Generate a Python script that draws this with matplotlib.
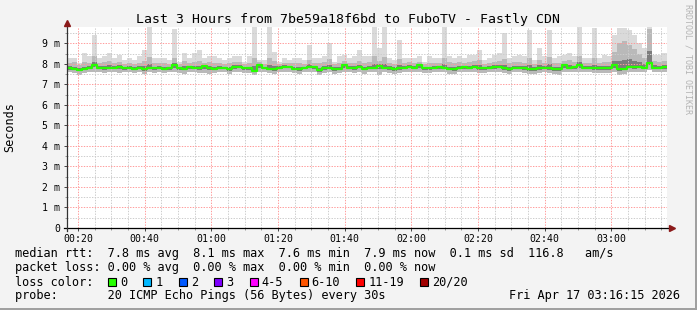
import numpy as np
import matplotlib.pyplot as plt
from matplotlib.patches import Rectangle

# ---------------- DATA ----------------
# one sample every 90 s, first sample at 00:16:40 (minutes after midnight)
START_MIN = 16 + 40 / 60
STEP_MIN = 1.5

# median rtt in ms
median_ms = [
    7.79, 7.76, 7.72, 7.74, 7.82, 7.93, 7.82, 7.80, 7.82, 7.80, 7.83, 7.78, 7.79, 7.76, 7.80,
    7.74, 7.82, 7.78, 7.80, 7.77, 7.79, 7.92, 7.80, 7.76, 7.85, 7.80, 7.78, 7.88, 7.79, 7.77,
    7.82, 7.80, 7.74, 7.85, 7.87, 7.79, 7.78, 7.66, 7.92, 7.80, 7.77, 7.74, 7.82, 7.87, 7.86,
    7.76, 7.74, 7.80, 7.86, 7.84, 7.68, 7.78, 7.80, 7.75, 7.76, 7.92, 7.80, 7.79, 7.87, 7.76,
    7.82, 7.80, 7.88, 7.82, 7.80, 7.74, 7.79, 7.80, 7.87, 7.82, 7.92, 7.79, 7.78, 7.80, 7.83,
    7.82, 7.76, 7.75, 7.81, 7.83, 7.80, 7.87, 7.80, 7.79, 7.82, 7.83, 7.86, 7.80, 7.74, 7.82,
    7.82, 7.79, 7.74, 7.74, 7.78, 7.80, 7.79, 7.74, 7.73, 7.92, 7.82, 7.83, 7.92, 7.82, 7.82,
    7.80, 7.79, 7.78, 7.79, 7.92, 7.74, 7.76, 7.87, 7.86, 7.87, 7.82, 8.06, 7.82, 7.82, 7.84,
]

# slowest ping of each sample (top of the light smoke)
smoke_max = [
    8.28, 8.28, 8.03, 8.52, 8.36, 9.41, 8.28, 8.36, 8.52, 8.28, 8.44, 8.19, 8.28, 8.19, 8.36,
    8.68, 9.80, 8.28, 8.28, 8.28, 8.19, 9.70, 8.11, 8.52, 8.28, 8.52, 8.68, 8.28, 8.36, 8.36,
    8.28, 8.19, 8.28, 8.36, 8.40, 8.11, 8.36, 9.80, 8.19, 8.19, 9.80, 8.60, 8.11, 8.28, 8.19,
    8.28, 8.28, 8.19, 8.93, 8.28, 8.28, 8.36, 9.00, 8.11, 8.36, 8.44, 8.28, 8.36, 8.68, 8.36,
    8.36, 9.80, 8.76, 9.80, 8.28, 8.19, 9.17, 8.28, 8.28, 8.28, 8.36, 8.11, 8.36, 8.28, 8.28,
    9.80, 8.36, 8.28, 8.36, 8.28, 8.44, 8.44, 8.68, 8.19, 8.28, 8.44, 8.52, 9.49, 8.28, 8.36,
    8.44, 8.36, 9.66, 8.19, 8.76, 8.36, 9.66, 8.28, 8.36, 8.44, 8.52, 8.36, 9.80, 8.28, 8.28,
    9.74, 8.28, 8.44, 8.36, 9.41, 9.74, 9.74, 9.66, 9.41, 9.00, 8.76, 9.80, 8.44, 8.44, 8.52,
]

# upper edge of the dense smoke
smoke_hi = [
    8.05, 8.08, 7.95, 8.10, 8.05, 8.40, 8.05, 8.08, 8.12, 8.02, 8.10, 8.00, 8.05, 8.00, 8.05,
    8.15, 8.35, 8.02, 8.05, 8.05, 8.00, 8.30, 7.98, 8.12, 8.05, 8.10, 8.15, 8.05, 8.08, 8.05,
    8.05, 8.00, 8.05, 8.10, 8.10, 8.00, 8.05, 8.30, 8.10, 8.00, 8.30, 8.15, 7.98, 8.05, 8.02,
    8.05, 8.02, 8.00, 8.20, 8.05, 8.02, 8.08, 8.25, 8.00, 8.05, 8.15, 8.05, 8.05, 8.15, 8.05,
    8.08, 8.40, 8.15, 8.35, 8.05, 8.00, 8.25, 8.05, 8.08, 8.05, 8.10, 8.00, 8.05, 8.02, 8.05,
    8.30, 8.08, 8.05, 8.08, 8.05, 8.10, 8.12, 8.20, 8.00, 8.05, 8.10, 8.15, 8.25, 8.05, 8.08,
    8.10, 8.05, 8.30, 8.00, 8.20, 8.05, 8.35, 8.05, 8.05, 8.15, 8.20, 8.08, 8.40, 8.05, 8.05,
    8.30, 8.05, 8.10, 8.08, 8.60, 9.00, 9.10, 8.90, 8.70, 8.50, 8.30, 9.70, 8.15, 8.10, 8.15,
]

# fastest ping of each sample (bottom of the smoke)
smoke_lo = [
    7.58, 7.55, 7.48, 7.55, 7.60, 7.62, 7.58, 7.55, 7.60, 7.58, 7.55, 7.58, 7.60, 7.55, 7.58,
    7.50, 7.60, 7.55, 7.58, 7.56, 7.58, 7.62, 7.55, 7.52, 7.60, 7.58, 7.56, 7.55, 7.50, 7.55,
    7.60, 7.58, 7.52, 7.60, 7.62, 7.56, 7.55, 7.45, 7.60, 7.58, 7.55, 7.52, 7.58, 7.62, 7.60,
    7.55, 7.50, 7.58, 7.60, 7.58, 7.46, 7.55, 7.58, 7.52, 7.55, 7.60, 7.58, 7.55, 7.62, 7.52,
    7.58, 7.60, 7.48, 7.58, 7.56, 7.50, 7.55, 7.58, 7.60, 7.58, 7.62, 7.55, 7.55, 7.58, 7.60,
    7.58, 7.52, 7.50, 7.58, 7.60, 7.58, 7.60, 7.56, 7.55, 7.58, 7.60, 7.60, 7.55, 7.50, 7.58,
    7.58, 7.55, 7.50, 7.52, 7.55, 7.58, 7.55, 7.50, 7.46, 7.60, 7.58, 7.60, 7.62, 7.58, 7.58,
    7.55, 7.55, 7.55, 7.55, 7.60, 7.48, 7.52, 7.60, 7.58, 7.60, 7.58, 7.70, 7.58, 7.58, 7.60,
]

x_ticks = [20, 40, 60, 80, 100, 120, 140, 160, 180]
x_labels = ["00:20", "00:40", "01:00", "01:20", "01:40", "02:00", "02:20", "02:40", "03:00"]
y_ticks = [0, 1, 2, 3, 4, 5, 6, 7, 8, 9]
y_labels = ["0", "1 m", "2 m", "3 m", "4 m", "5 m", "6 m", "7 m", "8 m", "9 m"]

loss_labels = ["0", "1", "2", "3", "4-5", "6-10", "11-19", "20/20"]
loss_colors = ["#26ff00", "#00b8ff", "#0059ff", "#7e00ff", "#ff00ff", "#ff5500", "#ff0000", "#a10000"]

rtt_avg, rtt_max, rtt_min, rtt_now, rtt_sd, rtt_ams = "7.8", "8.1", "7.6", "7.9", "0.1", "116.8"
loss_avg, loss_max, loss_min, loss_now = "0.00", "0.00", "0.00", "0.00"

TITLE = "Last 3 Hours from 7be59a18f6bd to FuboTV - Fastly CDN"
PROBE = "20 ICMP Echo Pings (56 Bytes) every 30s"
STAMP = "Fri Apr 17 03:16:15 2026"

# ---------------- SETTINGS ----------------
W, H = 697, 310
BG = "#f3f3f3"
MONO = "DejaVu Sans Mono"
ARROW = "#8b1a1a"
# ------------------------------------------

plt.rcParams["font.family"] = MONO

fig = plt.figure(figsize=(W / 100, H / 100), dpi=100, facecolor=BG)
ax = fig.add_axes([67 / W, 82 / H, 600 / W, 201 / H])
ax.set_facecolor("white")

# step edges: one extra edge after the last sample
edges = START_MIN + STEP_MIN * np.arange(len(median_ms) + 1)


def ext(v):
    v = np.asarray(v, dtype=float)
    return np.append(v, v[-1])


med = ext(median_ms)
mx = ext(smoke_max)
hi = ext(smoke_hi)
lo = ext(smoke_lo)

# smoke layers, lightest first
ax.fill_between(edges, lo, mx, step="post", color="#dadada", lw=0, zorder=1)
ax.fill_between(edges, lo, hi, step="post", color="#b9b9b9", lw=0, zorder=1)
ax.fill_between(edges, (2 * med + lo) / 3, (2 * med + hi) / 3, step="post", color="#7c7c7c", lw=0, zorder=1)

# median line (0 loss -> green)
ax.step(edges, med, where="post", color=loss_colors[0], lw=1.6, zorder=3)

ax.set_xlim(START_MIN, START_MIN + 180)
ax.set_ylim(0, 9.795)

ax.set_xticks(x_ticks)
ax.set_xticklabels(x_labels)
ax.set_xticks(np.arange(20, 196, 5), minor=True)
ax.set_yticks(y_ticks)
ax.set_yticklabels(y_labels)
ax.set_yticks(np.arange(0.5, 9.8, 1.0), minor=True)

# grid on top of the smoke, like rrdtool
ax.grid(which="major", color="#ff9a9a", lw=0.7, linestyle=(0, (1.4, 1.4)))
ax.grid(which="minor", color="#cccccc", lw=0.7, linestyle=(0, (1.4, 1.4)))

ax.tick_params(which="major", length=2, width=0.7, color="#444444", labelsize=7.1, pad=2.5)
ax.tick_params(which="minor", length=1.2, width=0.6, color="#888888")
ax.tick_params(axis="y", which="major", pad=3)

for s in ax.spines.values():
    s.set_visible(False)

# axis lines with rrdtool arrow heads
ax.plot([-3 / 600, 604 / 600], [0, 0], transform=ax.transAxes, color="black", lw=0.9, clip_on=False, zorder=4)
ax.plot([0, 0], [-3 / 201, 1.01], transform=ax.transAxes, color="#333333", lw=0.9, clip_on=False, zorder=4)
ax.plot(604.5 / 600, 0, marker=">", ms=4.2, color=ARROW, transform=ax.transAxes, clip_on=False, zorder=5)
ax.plot(0, 1.018, marker="^", ms=4.2, color=ARROW, transform=ax.transAxes, clip_on=False, zorder=5)

# ---------------- TEXT ----------------
fig.text(348.5 / W, 1 - 19 / H, TITLE, ha="center", va="center", fontsize=9.5)
fig.text(10 / W, 1 - 127 / H, "Seconds", rotation=90, ha="center", va="center", fontsize=8.5)
fig.text(688 / W, 1 - 4 / H, "RRDTOOL / TOBI OETIKER", rotation=270, ha="center", va="top",
         fontsize=6, color="#b4b4b4")

LX = 15 / W
FS = 8.55
line1 = (f"median rtt:  {rtt_avg} ms avg  {rtt_max} ms max  {rtt_min} ms min  "
         f"{rtt_now} ms now  {rtt_sd} ms sd  {rtt_ams}   am/s")
line2 = f"packet loss: {loss_avg} % avg  {loss_max} % max  {loss_min} % min  {loss_now} % now"
fig.text(LX, 1 - 254 / H, line1, va="center", fontsize=FS)
fig.text(LX, 1 - 268 / H, line2, va="center", fontsize=FS)
fig.text(LX, 1 - 282 / H, "loss color:", va="center", fontsize=FS)
fig.text(LX, 1 - 296 / H, "probe:       " + PROBE, va="center", fontsize=FS)
fig.text(680 / W, 1 - 296 / H, STAMP, ha="right", va="center", fontsize=FS)

# loss colour boxes
CH = 7.15
bx = 108
for lab, col in zip(loss_labels, loss_colors):
    fig.add_artist(Rectangle((bx / W, 1 - 286 / H), 8 / W, 8 / H, transform=fig.transFigure,
                             facecolor=col, edgecolor="black", lw=0.8))
    tx = bx + 12
    fig.text(tx / W, 1 - 282 / H, lab, va="center", fontsize=FS)
    bx = tx + (len(lab) + 2) * CH + 2

# outer frame (right / bottom shadow)
fig.add_artist(Rectangle((1 - 2 / W, 0), 2 / W, 1, transform=fig.transFigure, color="#a0a0a0", lw=0))
fig.add_artist(Rectangle((0, 0), 1, 2 / H, transform=fig.transFigure, color="#a0a0a0", lw=0))

plt.savefig("out.png", dpi=100, facecolor=fig.get_facecolor())
plt.close()
